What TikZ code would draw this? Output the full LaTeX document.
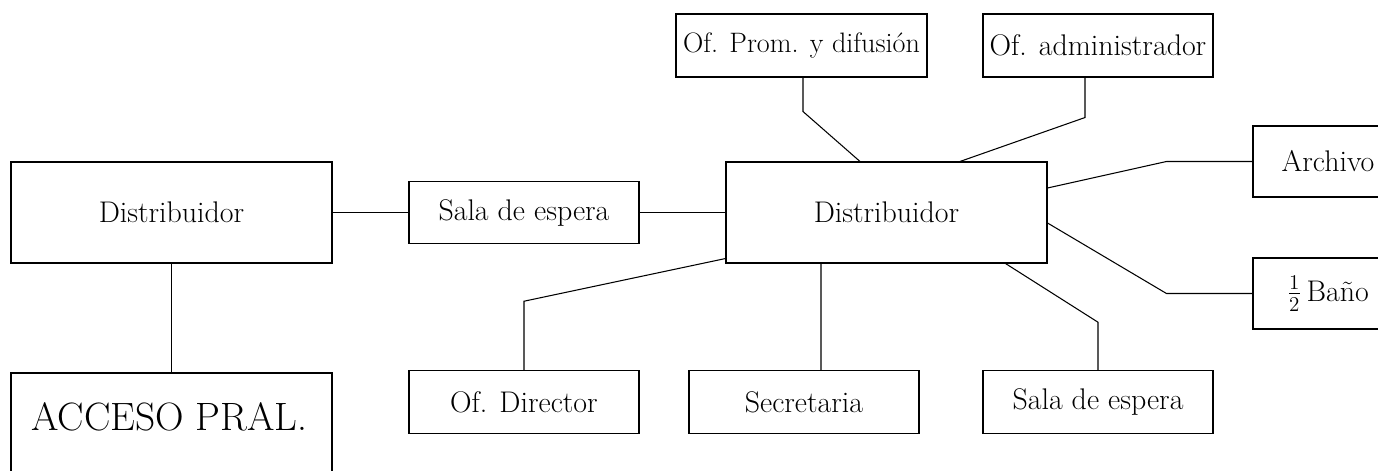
\documentclass[tikz,border=0pt]{standalone}
\usepackage{tikz}
\usetikzlibrary{positioning}
\tikzset{
  plan-hall/.style={draw=black, fill=white, line width=0.6pt, minimum width=6.42cm, minimum height=2.02cm,
    inner sep=2pt, font=\fontsize{17}{20}\selectfont},
  plan-room/.style={draw=black, fill=white, line width=0.6pt, minimum width=4.6cm, minimum height=1.25cm,
    inner sep=2pt, font=\fontsize{17}{20}\selectfont},
  plan-link/.style={draw=black, line width=0.6pt}
}
\begin{document}
\begin{tikzpicture}[x=1cm, y=1cm]
  \useasboundingbox (0,0) rectangle (27.56,9.4);

  % Entrance side
  \node[plan-hall] (distL) at (3.43,5.15) {Distribuidor};
  \node[plan-hall, minimum height=2.34cm] (acceso) at (3.43,0.77) {};
  \node[font=\fontsize{22.5}{26}\selectfont, anchor=base west] (accesotxt) at (0.5,0.8) {ACCESO PRAL.};
  \node[plan-room] (salaL) at (10.48,5.15) {Sala de espera};

  % Main distributor and rooms
  \node[plan-hall] (distC) at (17.73,5.15) {Distribuidor};
  \node[plan-room, minimum width=5.02cm, minimum height=1.26cm, font=\fontsize{16}{19}\selectfont] (prom) at (16.03,8.49) {Of. Prom. y difusión};
  \node[plan-room, minimum height=1.26cm] (admin) at (21.96,8.49) {Of. administrador};
  \node[plan-room, minimum width=3cm, minimum height=1.42cm] (archivo) at (26.56,6.17) {Archivo};
  \node[plan-room, minimum width=3cm, minimum height=1.42cm] (bano) at (26.56,3.53) {$\frac{1}{2}$\,Baño};
  \node[plan-room] (director) at (10.48,1.36) {Of. Director};
  \node[plan-room] (secretaria) at (16.08,1.36) {Secretaria};
  \node[plan-room] (salaR) at (21.96,1.36) {Sala de espera};

  % Links
  \draw[plan-link] (distL.south) -- (acceso.north);
  \draw[plan-link] (distL.east) -- (salaL.west);
  \draw[plan-link] (salaL.east) -- (distC.west);
  \draw[plan-link] ([xshift=0.03cm]prom.south) -- ++(0,-0.68) -- ([xshift=-0.53cm]distC.north);
  \draw[plan-link] ([xshift=-0.26cm]admin.south) -- ++(0,-0.8) -- ([xshift=1.47cm]distC.north);
  \draw[plan-link] ([yshift=0.49cm]distC.east) -- ([xshift=-1.72cm]archivo.west) -- (archivo.west);
  \draw[plan-link] ([yshift=-0.21cm]distC.east) -- ([xshift=-1.72cm]bano.west) -- (bano.west);
  \draw[plan-link] ([xshift=-0.84cm]distC.south east) -- ([yshift=0.96cm]salaR.north) -- (salaR.north);
  \draw[plan-link] ([xshift=-1.31cm]distC.south) -- ([xshift=0.34cm]secretaria.north);
  \draw[plan-link] ([yshift=0.1cm]distC.south west) -- ([yshift=1.38cm]director.north) -- (director.north);
\end{tikzpicture}
\end{document}
